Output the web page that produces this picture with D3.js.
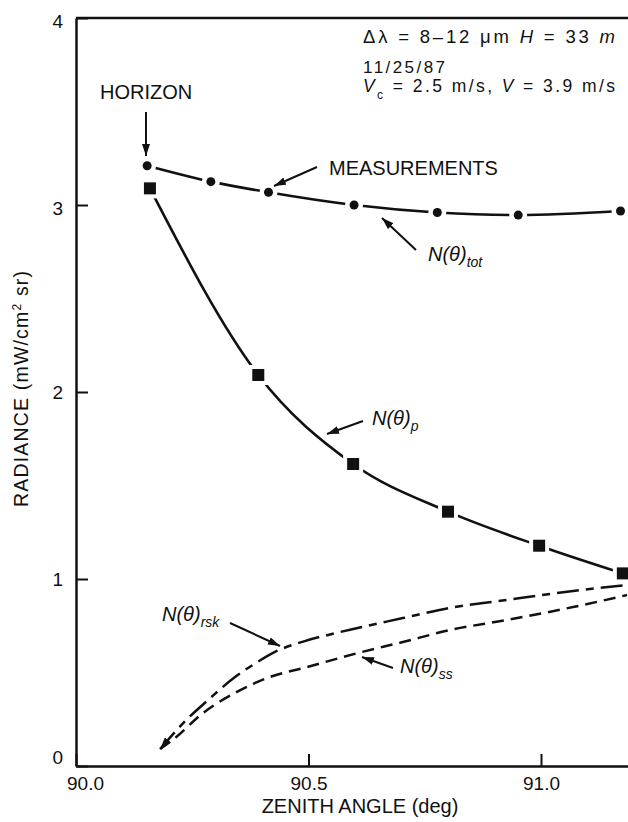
<!DOCTYPE html>
<html>
<head>
<meta charset="utf-8">
<script src="https://cdn.jsdelivr.net/npm/d3@7"></script>
<style>
  html, body { margin: 0; padding: 0; background: #fff; }
  svg { display: block; }
  text { font-family: "Liberation Sans", Arial, Helvetica, sans-serif; fill: #111; }
</style>
</head>
<body>
<svg id="chart" width="628" height="822"></svg>
<script>
// Zenith angle (deg) vs. radiance (mW/cm^2 sr)
const totAngles = [90.153, 90.290, 90.414, 90.598, 90.777, 90.951, 91.171];
const totValues = [3.21, 3.125, 3.068, 3.00, 2.96, 2.946, 2.968];

const pAngles = [90.159, 90.392, 90.596, 90.80, 90.996, 91.176];
const pValues = [3.089, 2.091, 1.615, 1.36, 1.178, 1.03];

const rskAngles = [90.181, 90.237, 90.282, 90.342, 90.387, 90.428, 90.492, 90.559, 90.703, 90.804, 90.927, 91.069, 91.185];
const rskValues = [0.091, 0.246, 0.348, 0.476, 0.551, 0.610, 0.668, 0.711, 0.791, 0.845, 0.888, 0.936, 0.968];

const ssAngles = [90.181, 90.213, 90.273, 90.346, 90.417, 90.497, 90.606, 90.703, 90.804, 90.927, 91.069, 91.185];
const ssValues = [0.091, 0.150, 0.283, 0.396, 0.476, 0.529, 0.604, 0.663, 0.727, 0.781, 0.850, 0.914];

const xTicks = [90.0, 90.5, 91.0];
const yTicks = [0, 1, 2, 3, 4];

const svg = d3.select("#chart");
const x = d3.scaleLinear().domain([90, 91.19]).range([76, 629.35]);
const y = d3.scaleLinear().domain([0, 4]).range([766, 18]);

const ink = "#111";

// arrowhead marker
const defs = svg.append("defs");
defs.append("marker")
  .attr("id", "arrow")
  .attr("viewBox", "0 0 12 8")
  .attr("refX", 12).attr("refY", 4)
  .attr("markerWidth", 12).attr("markerHeight", 8)
  .attr("markerUnits", "userSpaceOnUse")
  .attr("orient", "auto-start-reverse")
  .append("path").attr("d", "M0,0 L12,4 L0,8 Z").attr("fill", ink);

// axes
const yAxis = svg.append("g")
  .attr("transform", `translate(${x(90)},0)`)
  .call(d3.axisLeft(y).tickValues(yTicks).tickSize(-12).tickSizeOuter(0)
    .tickPadding(13).tickFormat(d3.format("d")));
yAxis.select(".domain").attr("stroke", ink).attr("stroke-width", 2.5);
yAxis.selectAll(".tick line").attr("stroke", ink).attr("stroke-width", 2);
yAxis.selectAll(".tick text").attr("font-size", 19).attr("fill", ink)
  .attr("font-family", "Liberation Sans, Arial, sans-serif")
  .attr("y", d => d === 0 ? -9 : (d >= 3 ? 3 : 0));

const xAxis = svg.append("g")
  .attr("transform", `translate(0,${y(0)})`)
  .call(d3.axisBottom(x).tickValues(xTicks).tickSize(-12).tickSizeOuter(0)
    .tickPadding(11).tickFormat(d3.format(".1f")));
xAxis.select(".domain").attr("stroke", ink).attr("stroke-width", 2.5);
xAxis.selectAll(".tick line").attr("stroke", ink).attr("stroke-width", 2);
xAxis.selectAll(".tick text").attr("font-size", 19).attr("fill", ink)
  .attr("font-family", "Liberation Sans, Arial, sans-serif")
  .attr("dx", d => d === 90 ? 9 : 0);

// top frame line
svg.append("line")
  .attr("x1", x(90)).attr("x2", x(91.19))
  .attr("y1", y(4)).attr("y2", y(4))
  .attr("stroke", ink).attr("stroke-width", 2.5);

// axis titles
svg.append("text")
  .attr("x", 360).attr("y", 813)
  .attr("text-anchor", "middle").attr("font-size", 20)
  .text("ZENITH ANGLE (deg)");

const yTitle = svg.append("text")
  .attr("transform", "translate(28,389) rotate(-90)")
  .attr("text-anchor", "middle").attr("font-size", 19.5)
  .attr("textLength", 236).attr("lengthAdjust", "spacing");
yTitle.append("tspan").text("RADIANCE (mW/cm");
yTitle.append("tspan").attr("font-size", 12).attr("dy", -7).text("2");
yTitle.append("tspan").attr("dy", 7).text(" sr)");

const line = d3.line().curve(d3.curveMonotoneX)
  .x(d => x(d[0])).y(d => y(d[1]));

const tot = d3.zip(totAngles, totValues);
const p = d3.zip(pAngles, pValues);
const rsk = d3.zip(rskAngles, rskValues);
const ss = d3.zip(ssAngles, ssValues);

// modelled components (dashed)
svg.append("path").datum(rsk).attr("d", line)
  .attr("fill", "none").attr("stroke", ink).attr("stroke-width", 2.5)
  .attr("stroke-dasharray", "22,7,8,7")
  .attr("marker-start", "url(#arrow)");
svg.append("path").datum(ss).attr("d", line)
  .attr("fill", "none").attr("stroke", ink).attr("stroke-width", 2.5)
  .attr("stroke-dasharray", "12,7");

// N(theta)_p with squares
svg.append("path").datum(p).attr("d", line)
  .attr("fill", "none").attr("stroke", ink).attr("stroke-width", 2.6);
svg.selectAll(".p-halo").data(p).enter().append("rect")
  .attr("x", d => x(d[0]) - 10).attr("y", d => y(d[1]) - 10)
  .attr("width", 20).attr("height", 20).attr("fill", "#fff");
svg.selectAll(".p-mark").data(p).enter().append("rect")
  .attr("x", d => x(d[0]) - 6).attr("y", d => y(d[1]) - 6)
  .attr("width", 12).attr("height", 12).attr("fill", ink);

// N(theta)_tot measurements with dots
svg.append("path").datum(tot).attr("d", line)
  .attr("fill", "none").attr("stroke", ink).attr("stroke-width", 2.6);
svg.selectAll(".t-halo").data(tot).enter().append("circle")
  .attr("cx", d => x(d[0])).attr("cy", d => y(d[1])).attr("r", 9).attr("fill", "#fff");
svg.selectAll(".t-mark").data(tot).enter().append("circle")
  .attr("cx", d => x(d[0])).attr("cy", d => y(d[1])).attr("r", 4.5).attr("fill", ink);

// annotation arrows
function arrow(x1, y1, x2, y2) {
  svg.append("line")
    .attr("x1", x1).attr("y1", y1).attr("x2", x2).attr("y2", y2)
    .attr("stroke", ink).attr("stroke-width", 2)
    .attr("marker-end", "url(#arrow)");
}
arrow(146, 112, 146, 156);
arrow(317, 167, 274, 186);
arrow(416, 250, 382, 218);
arrow(363, 421, 327, 434);
arrow(230, 623, 280, 646);
arrow(393, 668, 362, 657);

// annotation labels
svg.append("text").attr("x", 100).attr("y", 99).attr("font-size", 20).text("HORIZON");
svg.append("text").attr("x", 329).attr("y", 175).attr("font-size", 20).text("MEASUREMENTS");

function nLabel(x0, y0, sub) {
  const t = svg.append("text").attr("x", x0).attr("y", y0)
    .attr("font-size", 20).attr("font-style", "italic");
  t.append("tspan").text("N(θ)");
  t.append("tspan").attr("font-size", 14).attr("dy", 6).text(sub);
}
nLabel(428, 261, "tot");
nLabel(372, 425, "p");
nLabel(162, 621, "rsk");
nLabel(400, 673, "ss");

// conditions block
const l1 = svg.append("text").attr("x", 363).attr("y", 43).attr("font-size", 18.5)
  .attr("textLength", 252).attr("lengthAdjust", "spacing");
l1.append("tspan").text("Δλ = 8–12 μm  ");
l1.append("tspan").attr("font-style", "italic").text("H");
l1.append("tspan").text(" = 33 ");
l1.append("tspan").attr("font-style", "italic").text("m");

svg.append("text").attr("x", 363).attr("y", 72.5).attr("font-size", 17)
  .attr("textLength", 82).attr("lengthAdjust", "spacing").text("11/25/87");

const l3 = svg.append("text").attr("x", 363).attr("y", 92).attr("font-size", 17.5)
  .attr("textLength", 252).attr("lengthAdjust", "spacing");
l3.append("tspan").attr("font-style", "italic").text("V");
l3.append("tspan").attr("font-size", 12).attr("dy", 7).text("c");
l3.append("tspan").attr("dy", -7).text(" = 2.5 m/s, ");
l3.append("tspan").attr("font-style", "italic").text("V");
l3.append("tspan").text(" = 3.9 m/s");
</script>
</body>
</html>
